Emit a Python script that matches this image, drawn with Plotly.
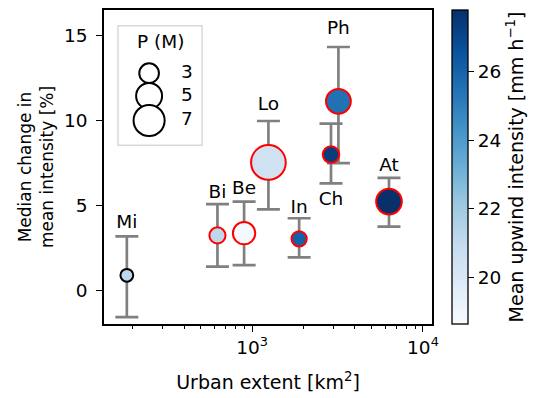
import numpy as np
import plotly.graph_objects as go
import plotly.express as px

# ---- data ----
cities = ["Mi", "Bi", "Be", "Lo", "In", "Ch", "Ph", "At"]
urban_extent = [185, 627, 898, 1246, 1885, 2896, 3200, 6324]          # km2
median_change = [0.87, 3.22, 3.35, 7.52, 3.02, 7.98, 11.12, 5.21]     # %
change_upper = [3.16, 5.06, 5.21, 9.96, 4.23, 9.81, 14.32, 6.61]
change_lower = [-1.59, 1.38, 1.47, 4.75, 1.92, 6.28, 7.48, 3.74]
population = [1.4, 2.1, 3.8, 8.6, 1.9, 2.2, 4.6, 4.9]                 # millions
upwind_intensity = [21.2, 21.2, 18.8, 20.45, 26.05, 27.4, 25.5, 27.8]  # mm/h
label_y = [3.93, 5.71, 5.91, 10.86, 4.81, 5.27, 15.36, 7.28]          # label centres
legend_pop = [3, 5, 7]
x_major = [1000, 10000]
x_major_text = ["10<sup>3</sup>", "10<sup>4</sup>"]
y_ticks = [0, 5, 10, 15]
cbar_ticks = [20, 22, 24, 26]

# ---- styles ----
FONT = "DejaVu Sans"
FS = 18.5
edge_colors = ["black"] + ["red"] * 7
c_min, c_max = 18.64, 27.8
blues = px.colors.sequential.Blues
colorscale = [[i / (len(blues) - 1), c] for i, c in enumerate(blues)]


def msize(p):
    return [12.5 * np.sqrt(v) - 2 for v in p]


def f(size=FS):
    return dict(family=FONT, size=size, color="black")


x_minor = [m * 10 ** e for e in (2, 3) for m in range(2, 10)]

fig = go.Figure()

# error bars
fig.add_trace(go.Scatter(
    x=urban_extent, y=median_change, mode="markers",
    marker=dict(size=1, color="rgba(0,0,0,0)"),
    error_y=dict(type="data", symmetric=False,
                 array=[u - m for u, m in zip(change_upper, median_change)],
                 arrayminus=[m - l for m, l in zip(median_change, change_lower)],
                 color="#808080", thickness=2.7, width=11.5),
    showlegend=False, hoverinfo="skip"))

# markers
fig.add_trace(go.Scatter(
    x=urban_extent, y=median_change, mode="markers",
    marker=dict(size=msize(population), color=upwind_intensity, opacity=1,
                colorscale=colorscale, cmin=c_min, cmax=c_max,
                line=dict(color=edge_colors, width=2),
                colorbar=dict(
                    x=1.061, xanchor="left", xref="paper", xpad=0,
                    y=0.5, yanchor="middle", len=1, ypad=0,
                    thickness=16, outlinecolor="black", outlinewidth=1.3,
                    tickvals=cbar_ticks, ticks="outside", ticklen=6, tickwidth=1.3,
                    tickcolor="black", tickfont=f(),
                    title=dict(text="Mean upwind intensity [mm h<sup>−1</sup>]",
                               side="right", font=f(19)))),
    showlegend=False))

# city labels
fig.add_trace(go.Scatter(
    x=urban_extent, y=label_y, mode="text", text=cities,
    textposition="middle center", textfont=f(),
    showlegend=False, hoverinfo="skip"))

# size legend (drawn on an inset axis)
leg_x = [0.37] * 3
leg_y = [0.603, 0.413, 0.207]
fig.add_trace(go.Scatter(
    x=leg_x, y=leg_y, mode="markers", xaxis="x2", yaxis="y2",
    marker=dict(size=msize(legend_pop), color="white", opacity=1,
                line=dict(color="black", width=2)),
    showlegend=False, hoverinfo="skip"))
fig.add_trace(go.Scatter(
    x=[0.82] * 3, y=leg_y, mode="text", xaxis="x2", yaxis="y2",
    text=[str(p) for p in legend_pop], textposition="middle center",
    textfont=f(), showlegend=False, hoverinfo="skip"))

fig.add_shape(type="rect", xref="x2 domain", yref="y2 domain",
              x0=0, x1=1, y0=0, y1=1, line=dict(color="#d9d9d9", width=1.5),
              fillcolor="rgba(0,0,0,0)")
fig.add_annotation(text="P (M)", xref="x2 domain", yref="y2 domain",
                   x=0.5, y=0.868, yanchor="middle", showarrow=False, font=f())

axis_common = dict(showline=True, linecolor="black", linewidth=1.5, mirror=True,
                   ticks="outside", ticklen=6, tickwidth=1.3, tickcolor="black",
                   showgrid=False, zeroline=False, tickfont=f())

fig.update_layout(
    width=540, height=398,
    margin=dict(l=104, r=108, t=8, b=72),
    paper_bgcolor="white", plot_bgcolor="white",
    font=f(),
    xaxis=dict(type="log", range=[np.log10(136), np.log10(11290)],
               tickvals=x_major, ticktext=x_major_text,
               minor=dict(tickvals=x_minor, ticks="outside", ticklen=3.5,
                          tickwidth=1, tickcolor="black", showgrid=False),
               title=dict(text="Urban extent [km<sup>2</sup>]", standoff=19, font=f(19)),
               **axis_common),
    yaxis=dict(range=[-2, 16.5], tickvals=y_ticks, ticklabelstandoff=5,
               title=dict(text="Median change in<br>mean intensity [%]", standoff=6,
                          font=f(17)),
               **axis_common),
    xaxis2=dict(domain=[0.0427, 0.299], range=[0, 1], anchor="y2", visible=False),
    yaxis2=dict(domain=[0.569, 0.950], range=[0, 1], anchor="x2", visible=False),
)

fig.write_html("out.html")
